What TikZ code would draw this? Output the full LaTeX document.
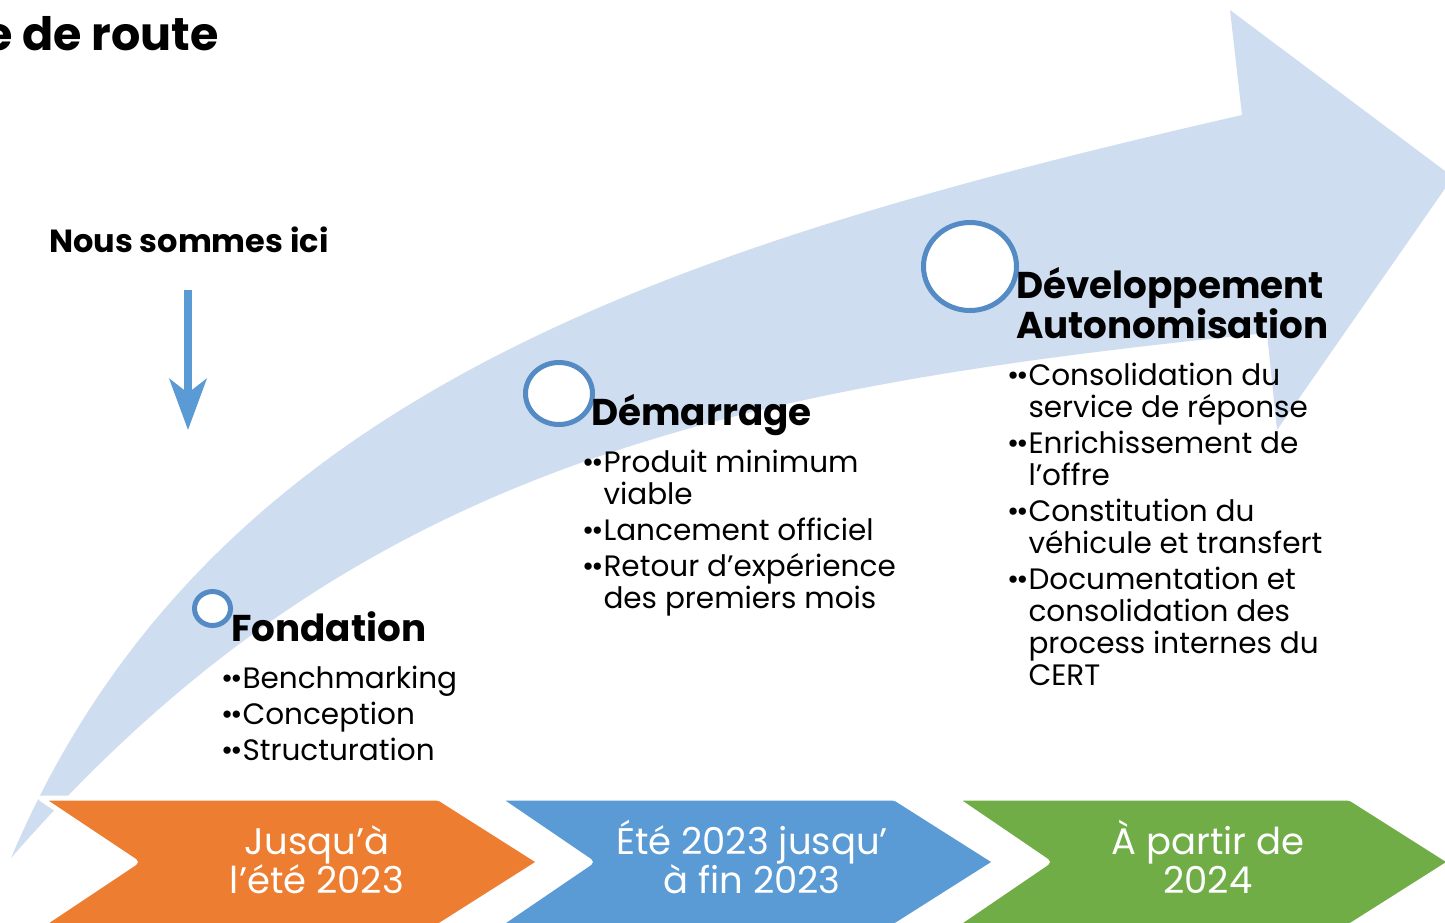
\documentclass[tikz,border=0pt]{standalone}
\usepackage{fontspec}
\newfontfamily\pop{Poppins}
\usetikzlibrary{shapes.geometric,arrows.meta}
\definecolor{arrowlight}{RGB}{206,221,239}
\definecolor{ringblue}{RGB}{84,139,196}
\definecolor{corange}{RGB}{237,125,49}
\definecolor{cblue}{RGB}{91,155,213}
\definecolor{cgreen}{RGB}{112,173,71}
\newcommand\lineslft[1]{\vtop{\halign{##\hfil\cr#1\crcr}}}
\newcommand\linesctr[1]{\vtop{\halign{\hfil##\hfil\cr#1\crcr}}}
\newcommand\itemgap{\noalign{\vskip4pt}}
\newcommand\bul{•\kern-3pt•}
\newcommand\hang{\hphantom{\bul}}
\tikzset{
  txt/.style={inner sep=0pt, anchor=base west, font=\pop\fontsize{29.5}{32}\selectfont},
  head/.style={inner sep=0pt, anchor=base west, font=\pop\bfseries\fontsize{37.3}{39}\selectfont},
  chevtxt/.style={inner sep=0pt, anchor=base, text=white, font=\pop\fontsize{37}{39}\selectfont},
  ring/.style={ellipse, draw=ringblue, line width=5pt, fill=white, inner sep=0pt},
  chev/.style={draw=white, line width=5pt, rounded corners=2pt},
}
\begin{document}
\begin{tikzpicture}[x=1pt,y=-1pt]
\useasboundingbox (0,0) rectangle (1445,922);
\begin{scope}
\clip (0,0) rectangle (1445,922);
\fill[white] (0,0) rectangle (1445,922);
% big curved arrow
\fill[arrowlight] (11,858) .. controls (206,398) and (657,249) .. (1242,115)
  -- (1230,10) -- (1453,177) -- (1277,430) -- (1267,333)
  .. controls (720,388) and (351,468) .. (11,858) -- cycle;
% chevrons
\filldraw[chev, fill=corange] (40,798) -- (439,798) -- (540,862) -- (439,926) -- (40,926) -- (136,862) -- cycle;
\filldraw[chev, fill=cblue] (497,798) -- (895,798) -- (996,862) -- (895,926) -- (497,926) -- (591,862) -- cycle;
\filldraw[chev, fill=cgreen] (954,798) -- (1350,798) -- (1451,862) -- (1350,926) -- (954,926) -- (1048,862) -- cycle;
\node[chevtxt] (tO) at (317,854) {\linesctr{Jusqu’à\cr l’été 2023}};
\node[chevtxt] (tB) at (752,854) {\linesctr{Été 2023 jusqu’\cr à fin 2023}};
\node[chevtxt] (tG) at (1208,854) {\linesctr{À partir de\cr 2024}};
% rings
\node[ring, minimum width=36pt, minimum height=34pt] (rF) at (212.5,608.5) {};
\node[ring, minimum width=67pt, minimum height=62pt] (rD) at (559,393.5) {};
\node[ring, minimum width=93pt, minimum height=88pt] (rA) at (970,266.5) {};
% title
\node[inner sep=0pt, anchor=base east, font=\pop\bfseries\fontsize{46}{50}\selectfont] (title) at (219,50) {Feuille de route};
% here marker
\node[inner sep=0pt, anchor=base west, font=\pop\bfseries\fontsize{32}{34}\selectfont] (here) at (49,252) {Nous sommes ici};
\coordinate (h1) at (188,290);
\coordinate (h2) at (188,430);
\draw[cblue, line width=8pt, -{Stealth[length=51pt, width=37pt, inset=14pt]}] (h1) -- (h2);
% phase 1
\node[head] (hF) at (231,641) {Fondation};
\node[txt] (lF) at (221,688) {\lineslft{\bul Benchmarking\cr\itemgap \bul Conception\cr\itemgap \bul Structuration}};
% phase 2
\node[head] (hD) at (591,425) {Démarrage};
\node[txt] (lD) at (582,472) {\lineslft{\bul Produit minimum\cr \hang viable\cr\itemgap \bul Lancement officiel\cr\itemgap \bul Retour d’expérience\cr \hang des premiers mois}};
% phase 3
\node[head] (hA) at (1016,298) {\lineslft{Développement\cr Autonomisation}};
\node[txt] (lA) at (1007,385) {\lineslft{\bul Consolidation du\cr \hang service de réponse\cr\itemgap \bul Enrichissement de\cr \hang l’offre\cr\itemgap \bul Constitution du\cr \hang véhicule et transfert\cr\itemgap \bul Documentation et\cr \hang consolidation des\cr \hang process internes du\cr \hang CERT}};
\end{scope}
\end{tikzpicture}
\end{document}
